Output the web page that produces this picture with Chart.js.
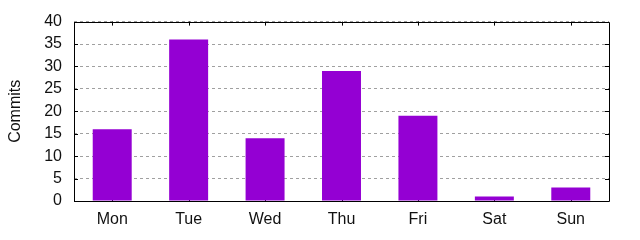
<!DOCTYPE html>
<html><head><meta charset="utf-8">
<script src="https://cdn.jsdelivr.net/npm/chart.js@4"></script>
<style>html,body{margin:0;padding:0;background:#fff}#wrap{width:640px;height:240px}</style>
</head><body><div id="wrap"><canvas id="c" width="640" height="240"></canvas></div>
<script>
const categories = ['Mon','Tue','Wed','Thu','Fri','Sat','Sun'];
const commits = [16, 36, 14, 29, 19, 1, 3];
const yTicks = [0,5,10,15,20,25,30,35,40];

const TICK = 4;
const framePlugin = {
  id: 'frame',
  beforeDatasetsDraw(chart) {
    const {ctx, chartArea: a, scales: {x, y}} = chart;
    ctx.save();
    ctx.strokeStyle = '#000'; ctx.lineWidth = 1;
    ctx.beginPath();
    categories.forEach((c, i) => {
      const px = Math.round(x.getPixelForValue(i)) + 0.5;
      ctx.moveTo(px, a.bottom); ctx.lineTo(px, a.bottom - TICK);
    });
    yTicks.forEach(v => {
      const py = Math.round(y.getPixelForValue(v)) + 0.5;
      ctx.moveTo(a.left, py); ctx.lineTo(a.left + TICK, py);
    });
    ctx.stroke();
    ctx.restore();
  },
  afterDraw(chart) {
    const {ctx, chartArea: a, scales: {x, y}} = chart;
    ctx.save();
    ctx.strokeStyle = '#000'; ctx.lineWidth = 1;
    ctx.beginPath();
    categories.forEach((c, i) => {
      const px = Math.round(x.getPixelForValue(i)) + 0.5;
      ctx.moveTo(px, a.top); ctx.lineTo(px, a.top + TICK);
    });
    yTicks.forEach(v => {
      const py = Math.round(y.getPixelForValue(v)) + 0.5;
      ctx.moveTo(a.right, py); ctx.lineTo(a.right - TICK, py);
    });
    ctx.stroke();
    ctx.beginPath();
    ctx.rect(Math.round(a.left) + 0.5, Math.round(a.top) + 0.5, Math.round(a.right - a.left), Math.round(a.bottom - a.top));
    ctx.stroke();
    ctx.restore();
  }
};

const FONT = { family: 'Liberation Sans', size: 16 };
new Chart(document.getElementById('c'), {
  type: 'bar',
  data: {
    labels: categories,
    datasets: [{ data: commits, backgroundColor: '#9400D3', borderWidth: 0, inflateAmount: 0,
      barPercentage: 0.51, categoryPercentage: 1.0 }]
  },
  options: {
    responsive: false, animation: false,
    devicePixelRatio: 1,
    layout: { padding: { left: 0, right: 31, top: 19, bottom: 0 } },
    plugins: { legend: { display: false }, tooltip: { enabled: false } },
    scales: {
      x: {
        offset: true,
        grid: { display: false, drawTicks: false },
        border: { display: false },
        ticks: { color: '#111', font: FONT, padding: 9, maxRotation: 0 },
        afterFit(s) { s.height = 39; }
      },
      y: {
        min: 0, max: 40,
        afterBuildTicks(s) { s.ticks = yTicks.map(v => ({ value: v })); },
        grid: { color: '#a0a0a0', drawTicks: false, lineWidth: 1 },
        border: { display: false, dash: [3, 3] },
        ticks: { color: '#111', font: FONT, padding: 12 },
        title: { display: true, text: 'Commits', color: '#111', font: FONT, padding: { top: 6, bottom: 0 } },
        afterFit(s) { s.width = 74; }
      }
    }
  },
  plugins: [framePlugin]
});
</script></body></html>
